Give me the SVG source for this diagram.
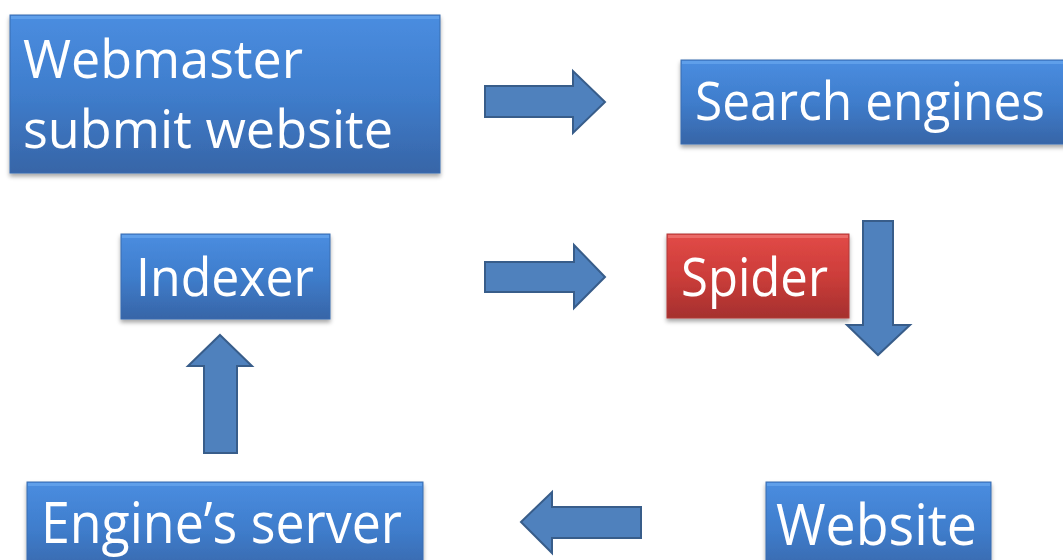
<svg xmlns="http://www.w3.org/2000/svg" width="1063" height="560" viewBox="0 0 1063 560">
<defs>
<linearGradient id="gBlue" x1="0" y1="0" x2="0" y2="1">
<stop offset="0" stop-color="#4a8de0"/>
<stop offset="0.5" stop-color="#3f7dcc"/>
<stop offset="1" stop-color="#3765a7"/>
</linearGradient>
<linearGradient id="gRed" x1="0" y1="0" x2="0" y2="1">
<stop offset="0" stop-color="#e24a47"/>
<stop offset="0.5" stop-color="#cc3d3a"/>
<stop offset="1" stop-color="#a5302e"/>
</linearGradient>
<filter id="sh" x="-10%" y="-10%" width="120%" height="130%">
<feDropShadow dx="0" dy="3" stdDeviation="2" flood-color="#000" flood-opacity="0.35"/>
</filter>
</defs>
<style>
.box{fill:url(#gBlue);stroke:#3a6db0;stroke-width:1;filter:url(#sh)}
.red{fill:url(#gRed);stroke:#b03a38;stroke-width:1;filter:url(#sh)}
.hiB{fill:#6aa6ee;opacity:0.7}
.hiR{fill:#f07a76;opacity:0.7}
.lbl{font-family:"Open Sans","Noto Sans","Liberation Sans",sans-serif;fill:#ffffff;font-size:53px}
.big{font-size:57px}
.arr{fill:#4f81bd;stroke:#385d8a;stroke-width:2;stroke-linejoin:miter}
</style>
<rect width="1063" height="560" fill="#ffffff"/>
<g id="connectors">
<polygon class="arr" points="485,86 573,86 573,71 605,102 573,133 573,117 485,117"/>
<polygon class="arr" points="485,262 574,262 574,245 605,277 574,308 574,292 485,292"/>
<polygon class="arr" points="863,221 893,221 893,325 910,325 878,355 847,325 863,325"/>
<polygon class="arr" points="220,335 252,366 237,366 237,453 204,453 204,366 188,366"/>
<polygon class="arr" points="521,522 552,492 552,507 641,507 641,538 552,538 552,553"/>
</g>
<g id="node-webmaster">
<rect class="box" x="10" y="15" width="430" height="158"/>
<rect class="hiB" x="11" y="16" width="428" height="3"/>
<text class="lbl" x="23" y="78" textLength="280" lengthAdjust="spacingAndGlyphs">Webmaster</text>
<text class="lbl" x="23" y="148" textLength="370" lengthAdjust="spacingAndGlyphs">submit website</text>
</g>
<g id="node-search">
<rect class="box" x="681" y="60" width="400" height="84"/>
<rect class="hiB" x="682" y="61" width="398" height="3"/>
<text class="lbl" x="695" y="120" textLength="350" lengthAdjust="spacingAndGlyphs">Search engines</text>
</g>
<g id="node-indexer">
<rect class="box" x="121" y="234" width="209" height="85"/>
<rect class="hiB" x="122" y="235" width="207" height="3"/>
<text class="lbl" x="136" y="296" textLength="178" lengthAdjust="spacingAndGlyphs">Indexer</text>
</g>
<g id="node-spider">
<rect class="red" x="667" y="234" width="182" height="84"/>
<rect class="hiR" x="668" y="235" width="180" height="3"/>
<text class="lbl" x="681" y="296" textLength="147" lengthAdjust="spacingAndGlyphs">Spider</text>
</g>
<g id="node-engine-server">
<rect class="box" x="27" y="482" width="396" height="95"/>
<rect class="hiB" x="28" y="483" width="394" height="3"/>
<text class="lbl big" x="41" y="543" textLength="361" lengthAdjust="spacingAndGlyphs">Engine’s server</text>
</g>
<g id="node-website">
<rect class="box" x="766" y="482" width="225" height="95"/>
<rect class="hiB" x="767" y="483" width="223" height="3"/>
<text class="lbl big" x="776" y="545" textLength="201" lengthAdjust="spacingAndGlyphs">Website</text>
</g>
</svg>
